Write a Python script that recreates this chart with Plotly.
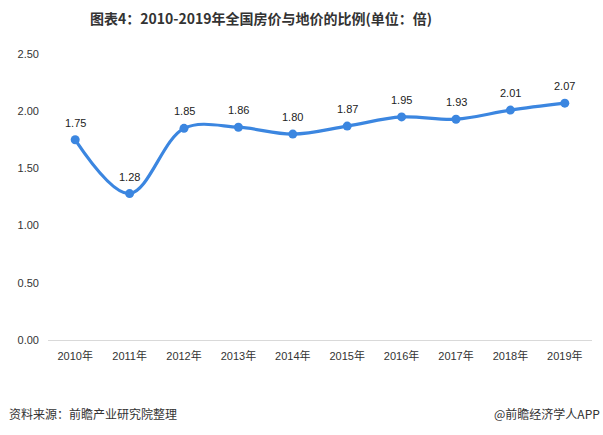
import plotly.graph_objects as go

years = ["2010年", "2011年", "2012年", "2013年", "2014年", "2015年", "2016年", "2017年", "2018年", "2019年"]
ratio = [1.75, 1.28, 1.85, 1.86, 1.80, 1.87, 1.95, 1.93, 2.01, 2.07]
y_ticks = [0, 0.5, 1.0, 1.5, 2.0, 2.5]
y_tick_labels = ["0.00", "0.50", "1.00", "1.50", "2.00", "2.50"]

FONT = "Liberation Sans, Noto Sans CJK SC, sans-serif"
LINE = "#3B86E0"

fig = go.Figure()
fig.add_trace(go.Scatter(
    x=years, y=ratio,
    mode="lines+markers",
    line=dict(color=LINE, width=3.2, shape="spline", smoothing=1.0),
    marker=dict(color=LINE, size=9),
    cliponaxis=False,
    hoverinfo="skip",
))

annotations = [
    dict(x=yr, y=v, xref="x", yref="y", text=f"{v:.2f}", showarrow=False,
         yshift=17, xanchor="center", yanchor="middle",
         font=dict(family=FONT, size=11, color="#222222"))
    for yr, v in zip(years, ratio)
]
annotations += [
    dict(text="资料来源：前瞻产业研究院整理", xref="paper", yref="paper",
         x=-41/544, y=-73/286, xanchor="left", yanchor="middle", showarrow=False,
         font=dict(family="Noto Sans CJK SC, sans-serif", size=12, color="#333333")),
    dict(text="@前瞻经济学人APP", xref="paper", yref="paper",
         x=(602-48)/544, y=-73/286, xanchor="right", yanchor="middle", showarrow=False,
         font=dict(family="Noto Sans CJK SC, sans-serif", size=12, color="#333333")),
]

fig.update_layout(
    width=603, height=435,
    margin=dict(l=48, r=11, t=54, b=95, autoexpand=False),
    paper_bgcolor="white", plot_bgcolor="white",
    showlegend=False,
    hovermode=False,
    title=dict(
        text="<b>图表4：2010-2019年全国房价与地价的比例(单位：倍)</b>",
        x=(261-48)/544, xref="paper", xanchor="center", y=0.955, yanchor="middle",
        font=dict(family="Noto Sans CJK SC, sans-serif", size=14, color="#333333"),
    ),
    xaxis=dict(
        type="category", range=[-0.5, 9.5],
        showgrid=False, showline=True, linecolor="#D9D9D9", linewidth=1,
        ticks="", tickfont=dict(family=FONT, size=11, color="#333333"),
        ticklabelstandoff=6, zeroline=False, automargin=False,
    ),
    yaxis=dict(
        range=[0, 2.5], tickvals=y_ticks, ticktext=y_tick_labels,
        showgrid=False, showline=False, zeroline=False, ticks="",
        tickfont=dict(family=FONT, size=11, color="#333333"),
        ticklabelstandoff=8, automargin=False,
    ),
    annotations=annotations,
)

fig.write_html("out.html", config={"displayModeBar": False},
               post_script="document.body.style.margin='0';document.body.style.padding='0';")
